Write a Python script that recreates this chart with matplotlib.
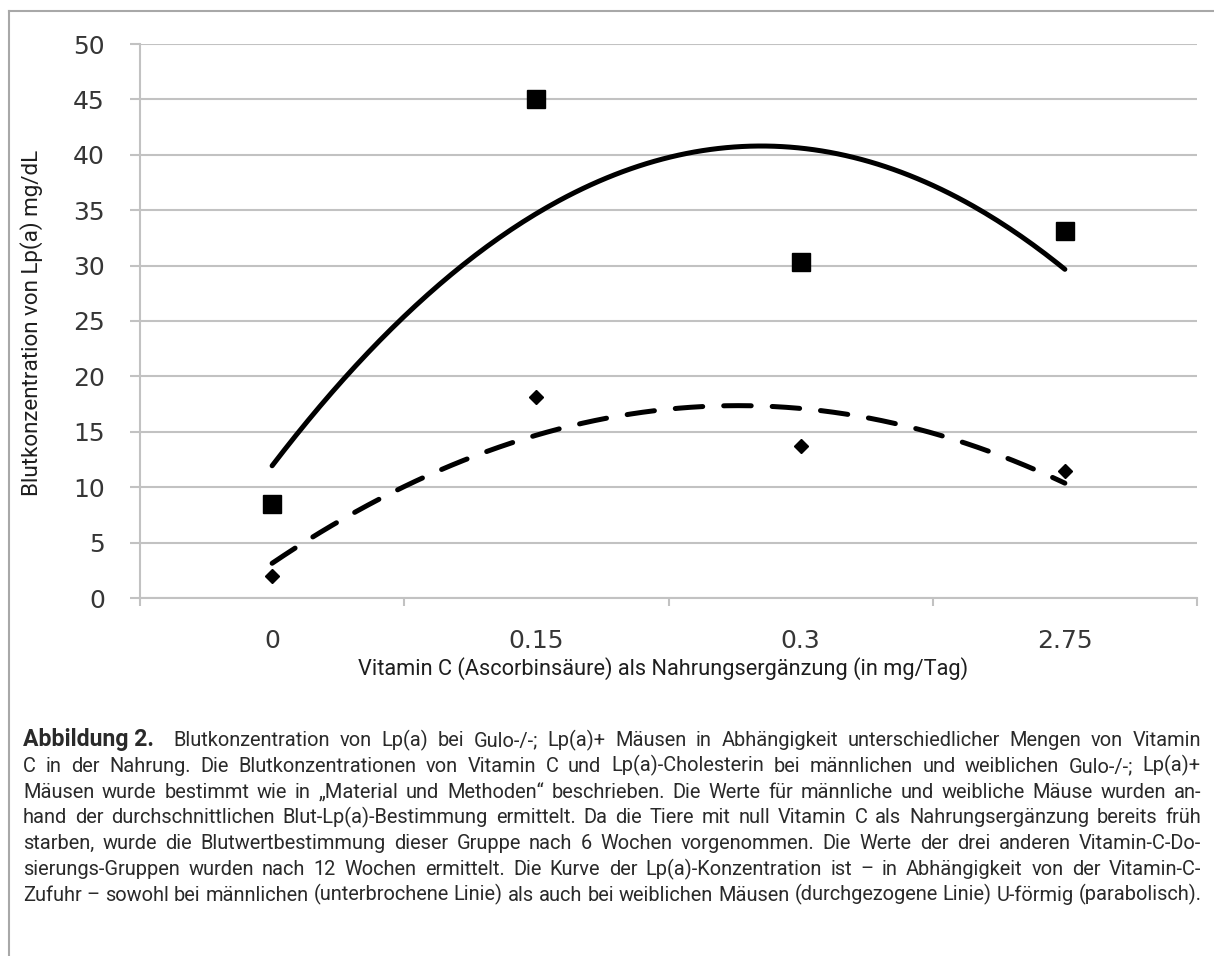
import numpy as np
import matplotlib
matplotlib.use("Agg")
import matplotlib.pyplot as plt
from matplotlib.lines import Line2D

# Werte
dosis = ["0", "0.15", "0.3", "2.75"]
weiblich = [8.5, 45.0, 30.3, 33.1]    # Quadrate, durchgezogene Linie
maennlich = [2.0, 18.1, 13.7, 11.5]   # Rauten, unterbrochene Linie
y_ticks = [0, 5, 10, 15, 20, 25, 30, 35, 40, 45, 50]

x_label = "Vitamin C (Ascorbinsäure) als Nahrungsergänzung (in mg/Tag)"
y_label = "Blutkonzentration von Lp(a) mg/dL"

caption_head = "Abbildung 2."
caption_lines = [
    "Blutkonzentration von Lp(a) bei Gulo-/-; Lp(a)+ Mäusen in Abhängigkeit unterschiedlicher Mengen von Vitamin",
    "C in der Nahrung. Die Blutkonzentrationen von Vitamin C und Lp(a)-Cholesterin bei männlichen und weiblichen Gulo-/-; Lp(a)+",
    "Mäusen wurde bestimmt wie in „Material und Methoden“ beschrieben. Die Werte für männliche und weibliche Mäuse wurden an-",
    "hand der durchschnittlichen Blut-Lp(a)-Bestimmung ermittelt. Da die Tiere mit null Vitamin C als Nahrungsergänzung bereits früh",
    "starben, wurde die Blutwertbestimmung dieser Gruppe nach 6 Wochen vorgenommen. Die Werte der drei anderen Vitamin-C-Do-",
    "sierungs-Gruppen wurden nach 12 Wochen ermittelt. Die Kurve der Lp(a)-Konzentration ist – in Abhängigkeit von der Vitamin-C-",
    "Zufuhr – sowohl bei männlichen (unterbrochene Linie) als auch bei weiblichen Mäusen (durchgezogene Linie) U-förmig (parabolisch).",
]

W, H = 1214, 956
TEXT_FONT = "Roboto"
GRID = "#c2c2c2"

fig = plt.figure(figsize=(W / 100, H / 100), dpi=100)
renderer = fig.canvas.get_renderer()


def fx(x):
    return x / W


def fy(y):
    return 1 - y / H


def width_px(t):
    return t.get_window_extent(renderer).width


def fit_size(text, target, **kw):
    # Schriftgroesse so waehlen, dass der Text die Zielbreite hat
    t = fig.text(0, 0, text, fontsize=10, **kw)
    w = width_px(t)
    t.remove()
    return 10 * target / w


# --- Diagramm ---
ax = fig.add_axes([fx(140), fy(598), fx(1197) - fx(140), fy(44) - fy(598)])
idx = np.arange(len(dosis))

ax.set_xlim(-0.5, 3.5)
ax.set_ylim(0, 50)
ax.set_yticks(y_ticks)
ax.yaxis.grid(True, color=GRID, lw=1.5)
ax.set_axisbelow(True)
for s in ["top", "right"]:
    ax.spines[s].set_visible(False)
for s in ["left", "bottom"]:
    ax.spines[s].set_color(GRID)
    ax.spines[s].set_linewidth(1.5)

ax.set_xticks(idx)
ax.set_xticklabels(dosis)
ax.set_xticks(np.arange(-0.5, 4.0, 1.0), minor=True)
ax.tick_params(axis="x", which="major", length=0, pad=22, labelsize=18, labelcolor="#363636")
ax.tick_params(axis="x", which="minor", length=6, width=1.5, color=GRID)
ax.tick_params(axis="y", length=7.2, width=1.5, color=GRID, pad=18, labelsize=18, labelcolor="#363636")

# quadratische Trendlinien wie in Excel
xs = np.linspace(0, 3, 200)
fit_w = np.polyfit(idx, weiblich, 2)
fit_m = np.polyfit(idx, maennlich, 2)
ax.plot(xs, np.polyval(fit_w, xs), color="black", lw=3.6, solid_capstyle="round", zorder=3)
ax.plot(xs, np.polyval(fit_m, xs), color="black", lw=3.6, dashes=(5.5, 4.2),
        dash_capstyle="round", zorder=3)

ax.plot(idx, weiblich, "s", color="black", ms=12.5, zorder=4)
ax.plot(idx, maennlich, "D", color="black", ms=6.8, zorder=4)

# Achsentitel
xl_size = fit_size(x_label, 612, family=TEXT_FONT)
fig.text(fx(663), fy(669), x_label, ha="center", va="center",
         fontsize=xl_size, family=TEXT_FONT, color="#1e1e1e")
yl_size = fit_size(y_label, 347, family=TEXT_FONT)
fig.text(fx(32), fy(323), y_label, ha="center", va="center", rotation=90,
         fontsize=yl_size, family=TEXT_FONT, color="#1e1e1e")

# Rahmen
fig.add_artist(Line2D([fx(9), fx(9)], [fy(11), 0], color="#a8a8a8", lw=1.5))
fig.add_artist(Line2D([fx(9), 1], [fy(11), fy(11)], color="#a8a8a8", lw=1.5))

# --- Bildunterschrift (Blocksatz) ---
left, right = 23, 1201
cap_size = fit_size(caption_lines[-1], 1204 - left, family=TEXT_FONT)
base0, step = 746, 25.8

sp = fig.text(0, 0, "a a", fontsize=cap_size, family=TEXT_FONT)
sp2 = fig.text(0, 0, "aa", fontsize=cap_size, family=TEXT_FONT)
space_w = width_px(sp) - width_px(sp2)
sp.remove()
sp2.remove()

for i, line in enumerate(caption_lines):
    y = fy(base0 + i * step)
    tokens = [(w, "normal", cap_size) for w in line.split(" ")]
    gap_weights = [1] * (len(tokens) - 1)
    if i == 0:
        tokens.insert(0, (caption_head, "bold", cap_size * 1.15))
        gap_weights.insert(0, 2)
    texts = []
    for word, weight, size in tokens:
        texts.append(fig.text(0, y, word, fontsize=size, family=TEXT_FONT,
                              weight=weight, color="#2a2a2a", va="baseline"))
    widths = [width_px(t) for t in texts]
    if i < len(caption_lines) - 1:
        unit = (right - left - sum(widths)) / sum(gap_weights)
    else:
        unit = space_w
    x = left
    for k, t in enumerate(texts):
        t.set_x(fx(x))
        x += widths[k]
        if k < len(gap_weights):
            x += unit * gap_weights[k]

fig.savefig("out.png", dpi=100)
